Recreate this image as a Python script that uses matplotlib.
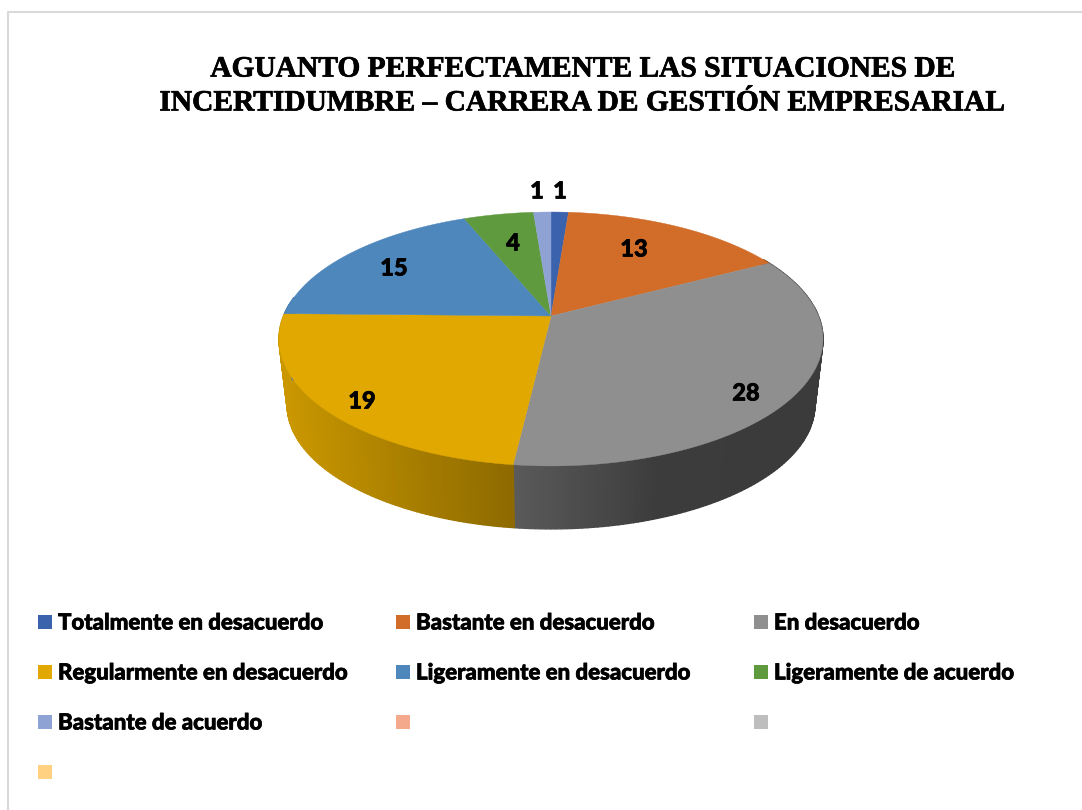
import numpy as np
import matplotlib
matplotlib.use("Agg")
import matplotlib.pyplot as plt
import matplotlib.patheffects as pe
from matplotlib.patches import Rectangle

title = "AGUANTO PERFECTAMENTE LAS SITUACIONES DE\nINCERTIDUMBRE – CARRERA DE GESTIÓN EMPRESARIAL"
categories = ["Totalmente en desacuerdo", "Bastante en desacuerdo", "En desacuerdo",
              "Regularmente en desacuerdo", "Ligeramente en desacuerdo", "Ligeramente de acuerdo",
              "Bastante de acuerdo", "", "", ""]
values = [1, 13, 28, 19, 15, 4, 1, 0, 0, 0]
colors = ["#3A62AD", "#D16D29", "#8F8F8F", "#E0A800", "#4E87BC", "#5F9A3E",
          "#8FA2D4", "#F4A98C", "#BEBEBE", "#FFD181"]

# where excel left the data labels (pixels)
label_xy = [(560, 191), (634, 249), (746, 393), (362, 401), (394, 268), (513, 243), (537, 191)]

# perspective of the pie, fitted on the picture (pixels)
CX, APEX_Y = 551, 316
A, B, K = 267.5, 122.8, 0.181
MID_Y, BOTTOM_MID_Y = 339, 405
BOTTOM_SX, BOTTOM_SY = 0.97, 0.976

# lato bold is a bit lighter than the calibri bold of the original
heavier = [pe.withStroke(linewidth=0.5, foreground="black")]


def top_edge(t):
    # t is the clockwise angle from 12 o'clock, in radians
    w = 1 + K * np.cos(t)
    return CX + A * np.sin(t) / w, APEX_Y - B * np.cos(t) / w


def bottom_edge(t):
    x, y = top_edge(t)
    return CX + (x - CX) * BOTTOM_SX, BOTTOM_MID_Y + (y - MID_Y) * BOTTOM_SY


def shade(color, x):
    f = np.interp(x, [282, 513, 660, 822], [0.9, 0.63, 0.42, 0.41])
    return tuple(c * f for c in matplotlib.colors.to_rgb(color))


fig, ax = plt.subplots(figsize=(10.82, 8.10), dpi=100)
fig.subplots_adjust(0, 0, 1, 1)
ax.set_xlim(0, 1082)
ax.set_ylim(810, 0)
ax.axis("off")

# thin frame of the chart, only top and left show up
ax.plot([8, 8, 1082], [810, 12, 12], color="#D9D9D9", lw=1.5)

ax.text(582, 86, title, ha="center", va="center", fontsize=21.2, fontweight="bold",
        family="Liberation Serif", color="black", linespacing=1.33, path_effects=heavier)

edges = np.cumsum([0] + values) / sum(values) * 2 * np.pi

# side wall first, as thin strips so it can carry the gradient
for i, col in enumerate(colors):
    t1, t2 = edges[i], edges[i + 1]
    t1, t2 = max(t1, np.pi / 3), min(t2, 1.55 * np.pi)
    if t2 <= t1:
        continue
    steps = np.linspace(t1, t2, int((t2 - t1) * 60) + 2)
    for a, b in zip(steps[:-1], steps[1:]):
        xa, ya = top_edge(a)
        xb, yb = top_edge(b)
        xc, yc = bottom_edge(b)
        xd, yd = bottom_edge(a)
        c = shade(col, (xa + xb) / 2)
        ax.fill([xa, xb, xc, xd], [ya, yb, yc, yd], color=c, lw=1.0, zorder=2)

# top face
for i, col in enumerate(colors):
    if values[i] == 0:
        continue
    t = np.linspace(edges[i], edges[i + 1], 200)
    x, y = top_edge(t)
    ax.fill(np.r_[CX, x], np.r_[APEX_Y, y], color=col, lw=0.3, zorder=3)

shown = [v for v in values if v > 0]
for v, (lx, ly) in zip(shown, label_xy):
    ax.text(lx, ly, str(v), ha="center", va="center", fontsize=17, fontweight=900,
            family="Lato", color="black", zorder=4, path_effects=heavier)

# legend, filled row by row like excel does
for i, (name, col) in enumerate(zip(categories, colors)):
    row, column = i // 3, i % 3
    lx = 38 + 358 * column
    ly = 622 + 50 * row
    ax.add_patch(Rectangle((lx, ly - 7), 13.5, 14, facecolor=col, edgecolor="none"))
    if name:
        ax.text(lx + 20, ly + 1, name, ha="left", va="center", fontsize=16, fontweight=900,
                family="Lato", color="black", path_effects=heavier)

fig.savefig("out.png", dpi=100, facecolor="white")
